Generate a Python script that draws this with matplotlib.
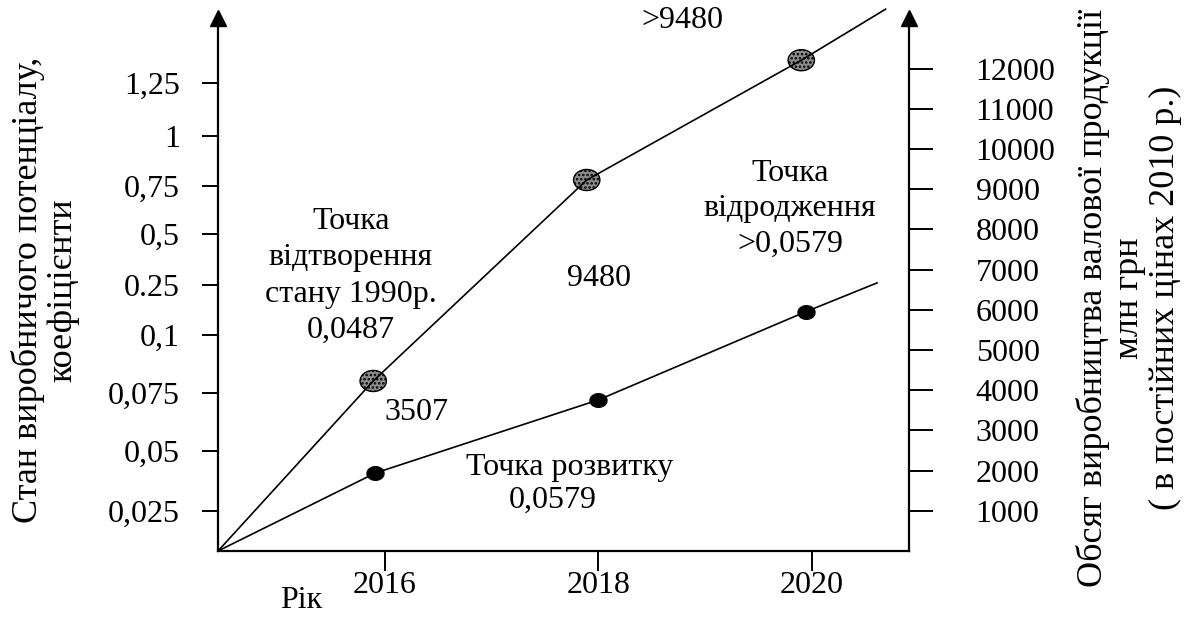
import matplotlib.pyplot as plt
import numpy as np

plt.rcParams['font.family'] = ['Liberation Serif', 'DejaVu Serif']
plt.rcParams['hatch.color'] = '#e6e6e6'
plt.rcParams['hatch.linewidth'] = 1.2

upper_x = [2014.436, 2015.89, 2017.89, 2019.90, 2020.69]
upper_y = [0, 4230, 9230, 12210, 13480]
lower_x = [2014.436, 2015.91, 2018.0, 2019.94, 2020.61]
lower_y = [0, 1940, 3760, 5950, 6670]

year_ticks = [2016, 2018, 2020]
vol_ticks = [1000, 2000, 3000, 4000, 5000, 6000, 7000, 8000, 9000, 10000, 11000, 12000]
coef_labels = ['0,025', '0,05', '0,075', '0,1', '0.25', '0,5', '0,75', '1', '1,25']
coef_pos = [995, 2490, 3930, 5370, 6620, 7890, 9080, 10320, 11640]

W, H = 1190, 618
fig = plt.figure(figsize=(11.9, 6.18), dpi=100)

def fx(x):
    return x / W

def fy(y):
    return 1 - y / H

FS = 23
ax = fig.add_axes([fx(218), fy(551), fx(909) - fx(218), fy(18) - fy(551)])
ax.set_xlim(2014.436, 2020.909)
ax.set_ylim(0, 13260)
ax.spines['top'].set_visible(False)
for s in ['left', 'right', 'bottom']:
    ax.spines[s].set_linewidth(1.6)

ax.set_xticks(year_ticks)
ax.set_xticklabels([str(y) for y in year_ticks])
ax.tick_params(axis='x', direction='out', length=14.5, width=1.4, pad=0, labelsize=FS)
ax.set_yticks(coef_pos)
ax.set_yticklabels(coef_labels)
ax.tick_params(axis='y', direction='out', length=11.5, width=1.4, pad=16, labelsize=FS)

ax2 = ax.twinx()
ax2.set_ylim(ax.get_ylim())
ax2.set_yticks(vol_ticks)
ax2.set_yticklabels([str(v) for v in vol_ticks], ha='left')
ax2.tick_params(axis='y', direction='out', length=17, width=1.4, pad=31, labelsize=FS)
for s in ['top', 'left', 'bottom', 'right']:
    ax2.spines[s].set_visible(False)

# arrow heads
ax.plot([0, 1], [1, 1], '^', color='k', markersize=11, transform=ax.transAxes, clip_on=False)

# lines
ax.plot(upper_x, upper_y, color='k', lw=1.2, clip_on=False, zorder=4)
ax.plot(lower_x, lower_y, color='k', lw=1.2, clip_on=False, zorder=4)

t = np.linspace(0, 2 * np.pi, 60)
ell = np.column_stack([np.cos(t), 0.8 * np.sin(t)])
ax.scatter(upper_x[1:4], upper_y[1:4], marker=ell, s=360, facecolor='#8c8c8c',
           edgecolor='k', linewidths=1.0, hatch='....', zorder=3)
ax.scatter(lower_x[1:4], lower_y[1:4], marker=ell, s=150, facecolor='k',
           edgecolor='k', zorder=5)

# annotations
txt = dict(ha='center', va='center', fontsize=FS, transform=fig.transFigure)
ax.text(fx(682), fy(20), '>9480', **txt)
ax.text(fx(351), fy(276), 'Точка\nвідтворення\nстану 1990р.\n0,0487', linespacing=1.33, **txt)
ax.text(fx(599), fy(278), '9480', **txt)
ax.text(fx(416), fy(413), '3507', **txt)
ax.text(fx(790), fy(209), 'Точка\nвідродження\n>0,0579', linespacing=1.3, **txt)
ax.text(fx(570), fy(467), 'Точка розвитку', **txt)
ax.text(fx(553), fy(500), '0,0579', **txt)

fig.text(fx(301), fy(601), 'Рік', ha='center', va='center', fontsize=FS)
fig.text(fx(45), fy(290), 'Стан виробничого потенціалу,\nкоефіцієнти', rotation=90,
         ha='center', va='center', fontsize=26, linespacing=1.05)
fig.text(fx(1129), fy(298), 'Обсяг виробництва валової продукції\nмлн грн\n( в постійних цінах 2010 р.)',
         rotation=90, ha='center', va='center', fontsize=26, linespacing=1.1)

fig.savefig('out.png', dpi=100)
